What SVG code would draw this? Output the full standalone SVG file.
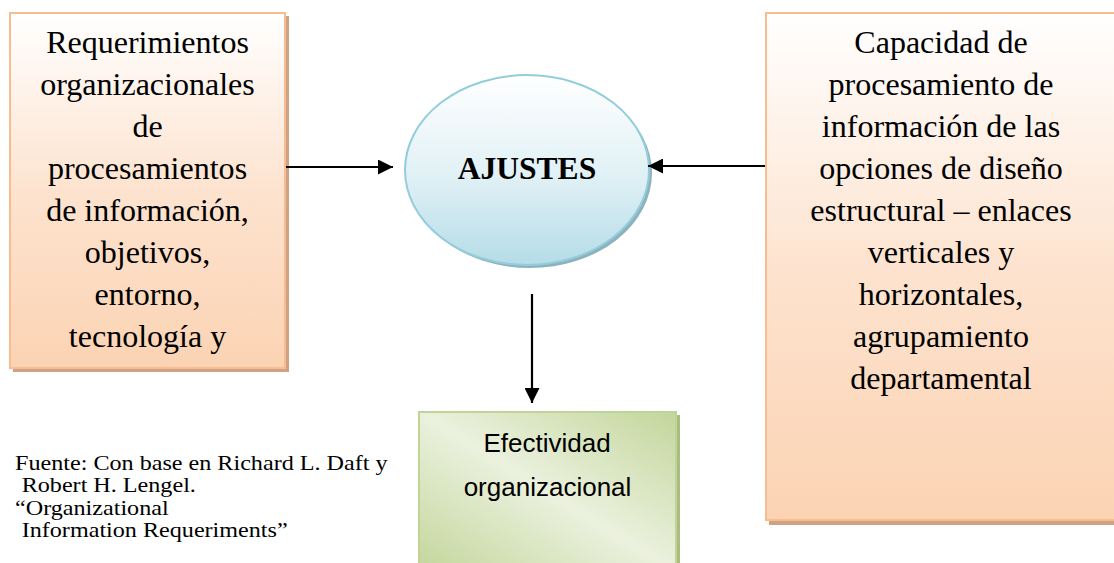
<svg xmlns="http://www.w3.org/2000/svg" width="1114" height="563" viewBox="0 0 1114 563">
  <style>
    .serif { font-family: "Liberation Serif", "Times New Roman", serif; fill: #000; }
    .box-text { font-size: 30.5px; text-anchor: middle; }
    .src-text { font-size: 21px; }
    .sans { font-family: "Liberation Sans", Arial, sans-serif; font-size: 26px; text-anchor: middle; fill: #000; }
    .peach-box { fill: url(#peachGrad); stroke: #f7bd90; stroke-width: 2; }
    .peach-shadow { fill: #cfa283; }
    .conn { stroke: #000; stroke-width: 2.2; fill: none; marker-end: url(#arrow); }
  </style>
  <defs>
    <linearGradient id="peachGrad" x1="0" y1="0" x2="0" y2="1">
      <stop offset="0" stop-color="#ffffff"/>
      <stop offset="0.5" stop-color="#fde3cf"/>
      <stop offset="1" stop-color="#fbd3b3"/>
    </linearGradient>
    <linearGradient id="blueGrad" x1="0" y1="0" x2="0" y2="1">
      <stop offset="0" stop-color="#ffffff"/>
      <stop offset="0.55" stop-color="#dff0f5"/>
      <stop offset="1" stop-color="#b5dce7"/>
    </linearGradient>
    <linearGradient id="greenGrad" x1="0" y1="1" x2="1" y2="0">
      <stop offset="0" stop-color="#c3d69b"/>
      <stop offset="0.5" stop-color="#ebf1de"/>
      <stop offset="1" stop-color="#c3d69b"/>
    </linearGradient>
    <marker id="arrow" markerUnits="userSpaceOnUse" markerWidth="15" markerHeight="15" viewBox="0 0 15 15" refX="15" refY="7.5" orient="auto">
      <path d="M0,0 L15,7.5 L0,15 Z" fill="#000"/>
    </marker>
  </defs>

  <rect width="1114" height="563" fill="#ffffff"/>

  <g id="node-requerimientos">
    <rect class="peach-shadow" x="13" y="16" width="276" height="356"/>
    <rect class="peach-box" x="10" y="13" width="275" height="355"/>
    <g transform="translate(147.5,0) scale(1.05,1)">
      <text class="serif box-text" x="0" y="53.5">Requerimientos</text>
      <text class="serif box-text" x="0" y="95.4">organizacionales</text>
      <text class="serif box-text" x="0" y="137.3">de</text>
      <text class="serif box-text" x="0" y="179.2">procesamientos</text>
      <text class="serif box-text" x="0" y="221.1">de información,</text>
      <text class="serif box-text" x="0" y="263">objetivos,</text>
      <text class="serif box-text" x="0" y="304.9">entorno,</text>
      <text class="serif box-text" x="0" y="346.8">tecnología y</text>
    </g>
  </g>

  <g id="node-capacidad">
    <rect class="peach-shadow" x="769" y="17" width="348" height="508"/>
    <rect class="peach-box" x="766" y="13" width="350" height="507"/>
    <g transform="translate(941,0) scale(1.05,1)">
      <text class="serif box-text" x="0" y="53.5">Capacidad de</text>
      <text class="serif box-text" x="0" y="95.4">procesamiento de</text>
      <text class="serif box-text" x="0" y="137.3">información de las</text>
      <text class="serif box-text" x="0" y="179.2">opciones de diseño</text>
      <text class="serif box-text" x="0" y="221.1">estructural – enlaces</text>
      <text class="serif box-text" x="0" y="263">verticales y</text>
      <text class="serif box-text" x="0" y="304.9">horizontales,</text>
      <text class="serif box-text" x="0" y="346.8">agrupamiento</text>
      <text class="serif box-text" x="0" y="388.7">departamental</text>
    </g>
  </g>

  <g id="node-ajustes">
    <ellipse cx="530" cy="173" rx="122" ry="95" fill="#8eb2bd"/>
    <ellipse cx="527" cy="170" rx="122" ry="95" fill="url(#blueGrad)" stroke="#93cddc" stroke-width="2"/>
    <text class="serif" x="527" y="178.5" font-size="31.5" font-weight="bold" text-anchor="middle">AJUSTES</text>
  </g>

  <g id="node-efectividad">
    <rect x="422" y="415" width="258" height="160" fill="#a9bd80"/>
    <rect x="419" y="412" width="257" height="160" fill="url(#greenGrad)" stroke="#c0d497" stroke-width="2"/>
    <text class="sans" x="547" y="452.3">Efectividad</text>
    <text class="sans" x="547.5" y="495.5">organizacional</text>
  </g>

  <g id="source-note">
    <g transform="translate(15,0) scale(1.15,1)">
      <text class="serif src-text" x="0" y="470">Fuente: Con base en Richard L. Daft y</text>
      <text class="serif src-text" x="5.8" y="492.4">Robert H. Lengel.</text>
      <text class="serif src-text" x="0" y="514.8">“Organizational</text>
      <text class="serif src-text" x="5.8" y="537.2">Information Requeriments”</text>
    </g>
  </g>

  <g id="connectors">
    <path class="conn" d="M286,167 L393,167"/>
    <path class="conn" d="M765,166 L648,166"/>
    <path class="conn" d="M532,294 L532,403"/>
  </g>
</svg>
